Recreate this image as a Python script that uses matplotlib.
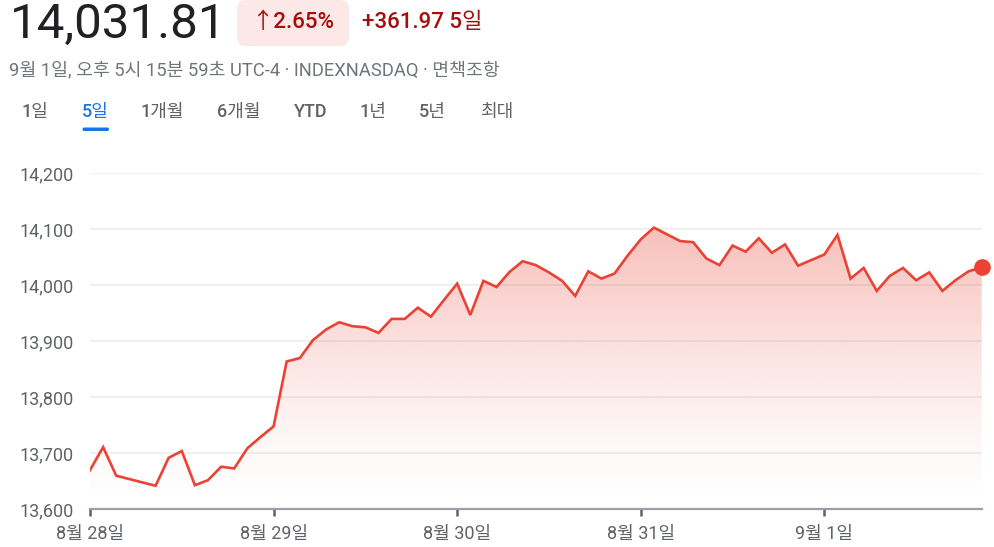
import matplotlib
matplotlib.use("Agg")
import matplotlib.pyplot as plt
import numpy as np
from matplotlib.patches import FancyBboxPatch
from matplotlib.colors import to_rgb

# ---------------- data ----------------
values = [13670, 13711, 13660, 13654, 13648, 13642, 13692, 13704, 13643, 13652,
          13676, 13673, 13709, 13729, 13748, 13864, 13870, 13902, 13921, 13934,
          13927, 13925, 13915, 13940, 13940, 13960, 13944, 13974, 14003, 13947,
          14008, 13997, 14024, 14043, 14036, 14023, 14008, 13981, 14025, 14012,
          14021, 14053, 14082, 14103, 14091, 14079, 14077, 14048, 14036, 14071,
          14060, 14084, 14058, 14073, 14035, 14045, 14055, 14090, 14012, 14031,
          13990, 14017, 14031, 14009, 14023, 13990, 14009, 14025, 14031.81]
points_per_day = 14
day_labels = ["8월 28일", "8월 29일", "8월 30일", "8월 31일", "9월 1일"]
y_ticks = [13600, 13700, 13800, 13900, 14000, 14100, 14200]
y_tick_labels = ["13,600", "13,700", "13,800", "13,900", "14,000", "14,100", "14,200"]
tabs = ["1일", "5일", "1개월", "6개월", "YTD", "1년", "5년", "최대"]
tab_centers = [35, 95, 162.5, 239, 311, 372.5, 432.5, 497]
active_tab = "5일"

price_text = "14,031.81"
pct_text = "↑2.65%"
chg_text = "+361.97 5일"
sub_text = "9월 1일, 오후 5시 15분 59초 UTC-4 · INDEXNASDAQ · 면책조항"

FAM = ["Roboto", "Noto Sans CJK KR", "DejaVu Sans"]
plt.rcParams["font.family"] = FAM

W, H = 994, 547
fig = plt.figure(figsize=(W / 100, H / 100), dpi=100)
fig.patch.set_facecolor("white")
T = fig.dpi_scale_trans


def P(x, y):
    return x / 100, (H - y) / 100


RED = "#ea4335"
GRID = (0, 0, 0, 0.075)
LABEL = "#5f6368"

# ---------------- axes ----------------
ax = fig.add_axes([90 / W, (H - 509.3) / H, (981.7 - 90) / W, (509.3 - 173.3) / H])
x = np.arange(len(values))
ymin, ymax = y_ticks[0], y_ticks[-1]
ax.set_xlim(0, len(values) - 1)
ax.set_ylim(ymin, ymax)

# gradient fill under line
poly = ax.fill_between(x, values, ymin, facecolor="none", edgecolor="none")
top = max(values)
n = 256
t = np.linspace(0, 1, n)[:, None]  # 0 bottom -> 1 top
rgb = to_rgb(RED)
img = np.zeros((n, 1, 4))
img[..., 0], img[..., 1], img[..., 2] = rgb
img[..., 3] = 0.34 * t ** 1.4
im = ax.imshow(img, extent=[0, len(values) - 1, ymin, top], origin="lower",
               aspect="auto", zorder=1, interpolation="bilinear")
im.set_clip_path(poly.get_paths()[0], transform=ax.transData)

# gridlines
for yt in y_ticks[1:]:
    ax.axhline(yt, color=GRID, lw=1.1, zorder=2)

ax.plot(x, values, color=RED, lw=1.9, zorder=3, solid_joinstyle="miter")
ax.plot([x[-1]], [values[-1]], "o", color=RED, ms=11, zorder=4, clip_on=False)

for s in ["top", "right", "left"]:
    ax.spines[s].set_visible(False)
ax.spines["bottom"].set_color("#9aa0a6")
ax.spines["bottom"].set_linewidth(1.6)
ax.set_xticks(np.arange(len(day_labels)) * points_per_day)
ax.set_xticklabels(day_labels)
ax.set_yticks(y_ticks)
ax.set_yticklabels(y_tick_labels)
ax.tick_params(axis="x", length=5, width=1.8, color="#5f6368", pad=6,
               labelsize=13, labelcolor=LABEL)
ax.tick_params(axis="y", length=0, pad=12, labelsize=13, labelcolor=LABEL)
ax.set_facecolor("none")

# ---------------- header ----------------
fig.text(*P(9.5, 25), price_text, transform=T, fontsize=35.5, color="#202124",
         va="center", ha="left")

badge = FancyBboxPatch(P(237, 46), 1.12, 0.46, transform=T,
                       boxstyle="round,pad=0,rounding_size=0.09",
                       facecolor="#fce8e6", edgecolor="none")
fig.add_artist(badge)
fig.text(*P(293, 23), pct_text, transform=T, fontsize=16, color="#a50e0e",
         va="center", ha="center", fontweight="medium")
fig.text(*P(362, 23), chg_text, transform=T, fontsize=16, color="#a50e0e",
         va="center", ha="left", fontweight="medium")

fig.text(*P(9, 70), sub_text, transform=T, fontsize=13.2, color="#70757a",
         va="center", ha="left")

for lab, cx in zip(tabs, tab_centers):
    active = lab == active_tab
    fig.text(*P(cx, 112), lab, transform=T, fontsize=13,
             color="#1a73e8" if active else LABEL, va="center", ha="center",
             fontweight="medium")
    if active:
        bar = FancyBboxPatch(P(82.5, 131), 0.265, 0.035, transform=T,
                             boxstyle="round,pad=0,rounding_size=0.017",
                             facecolor="#1a73e8", edgecolor="none")
        fig.add_artist(bar)

fig.savefig("out.png", dpi=100, facecolor="white")
